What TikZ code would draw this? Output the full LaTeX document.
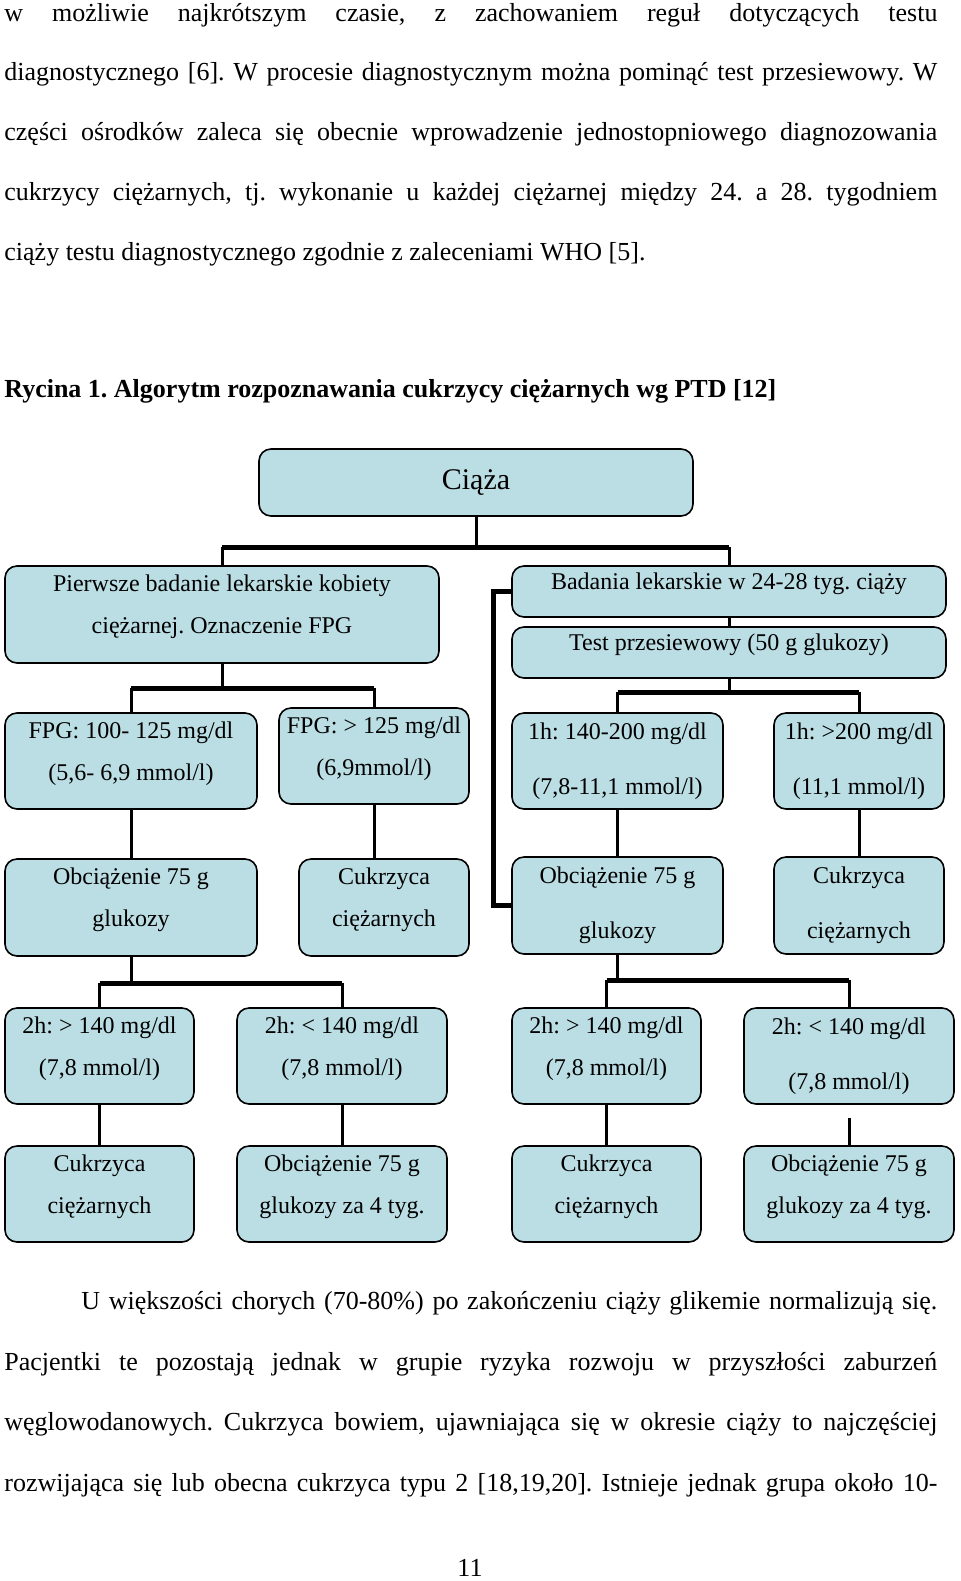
\documentclass[tikz,border=0pt]{standalone}
\usepackage{fontspec}
\setmainfont{Liberation Serif}
\usetikzlibrary{positioning}
\frenchspacing

\definecolor{boxblue}{RGB}{187,222,228}

\tikzstyle{box}=[draw,line width=0.8pt,rounded corners=6pt,fill=boxblue,align=center,inner sep=0pt,font=\fontsize{12}{21}\selectfont]
\tikzstyle{wide}=[font=\fontsize{12}{27.5}\selectfont]
\tikzstyle{lifted}=[text depth=10pt]
\tikzstyle{link}=[line width=1.5pt]
\tikzstyle{bar}=[line width=2.5pt]
\tikzstyle{line}=[inner sep=0pt,anchor=base west,font=\fontsize{13}{15}\selectfont]

\begin{document}
\begin{tikzpicture}[x=0.5pt,y=-0.5pt]
	\useasboundingbox (0,0) rectangle (960,1581);
	\fill[white] (0,0) rectangle (960,1581);
	
	% text above
	\node[line] (t1) at (4,21) {\makebox[466.5pt][s]{w możliwie najkrótszym czasie, z zachowaniem reguł dotyczących testu}};
	\node[line] (t2) at (4,80) {\makebox[466.5pt][s]{diagnostycznego [6]. W procesie diagnostycznym można pominąć test przesiewowy. W}};
	\node[line] (t3) at (4,140) {\makebox[466.5pt][s]{części ośrodków zaleca się obecnie wprowadzenie jednostopniowego diagnozowania}};
	\node[line] (t4) at (4,200) {\makebox[466.5pt][s]{cukrzycy ciężarnych, tj. wykonanie u każdej ciężarnej między 24. a 28. tygodniem}};
	\node[line] (t5) at (4,260) {ciąży testu diagnostycznego zgodnie z zaleceniami WHO [5].};
	
	\node[line,font=\fontsize{13}{15}\selectfont\bfseries] (caption) at (4,397) {Rycina 1. Algorytm rozpoznawania cukrzycy ciężarnych wg PTD [12]};
	
	% boxes
	\node[box,minimum width=217pt,minimum height=33.5pt] (ciaza) at (476,482.5) {\fontsize{15}{18}\selectfont Ciąża};
	
	\node[box,lifted,minimum width=217pt,minimum height=48.5pt] (pierwsze) at (222,614.5) {Pierwsze badanie lekarskie kobiety\\ciężarnej. Oznaczenie FPG};
	\node[box,lifted,minimum width=217pt,minimum height=25.5pt] (badania) at (729,591.5) {Badania lekarskie w 24-28 tyg. ciąży};
	\node[box,lifted,minimum width=217pt,minimum height=25.5pt] (test) at (729,652.5) {Test przesiewowy (50 g glukozy)};
	
	\node[box,lifted,minimum width=126pt,minimum height=48pt] (fpgA) at (131,761) {FPG: 100- 125 mg/dl\\(5,6- 6,9 mmol/l)};
	\node[box,lifted,minimum width=95pt,minimum height=48pt] (fpgB) at (374,756) {FPG: > 125 mg/dl\\(6,9mmol/l)};
	\node[box,wide,minimum width=105.5pt,minimum height=48pt] (hA) at (617.5,761) {1h: 140-200 mg/dl\\(7,8-11,1 mmol/l)};
	\node[box,wide,minimum width=85pt,minimum height=48pt] (hB) at (859,761) {1h: >200 mg/dl\\(11,1 mmol/l)};
	
	\node[box,lifted,minimum width=126pt,minimum height=48.5pt] (obcA) at (131,907.5) {Obciążenie 75 g\\glukozy};
	\node[box,lifted,minimum width=85pt,minimum height=48.5pt] (cukA) at (384,907.5) {Cukrzyca\\ciężarnych};
	\node[box,wide,minimum width=105.5pt,minimum height=48.5pt] (obcB) at (617.5,905.5) {Obciążenie 75 g\\glukozy};
	\node[box,wide,minimum width=85pt,minimum height=48.5pt] (cukB) at (859,905.5) {Cukrzyca\\ciężarnych};
	
	\node[box,lifted,minimum width=94.5pt,minimum height=48pt] (twoA) at (99.5,1056) {2h: > 140 mg/dl\\(7,8 mmol/l)};
	\node[box,lifted,minimum width=105pt,minimum height=48pt] (twoB) at (342,1056) {2h: < 140 mg/dl\\(7,8 mmol/l)};
	\node[box,lifted,minimum width=94.5pt,minimum height=48pt] (twoC) at (606.5,1056) {2h: > 140 mg/dl\\(7,8 mmol/l)};
	\node[box,wide,minimum width=105pt,minimum height=48pt] (twoD) at (849,1056) {2h: < 140 mg/dl\\(7,8 mmol/l)};
	
	\node[box,lifted,minimum width=94.5pt,minimum height=48pt] (cukC) at (99.5,1194) {Cukrzyca\\ciężarnych};
	\node[box,lifted,minimum width=105pt,minimum height=48pt] (obcC) at (342,1194) {Obciążenie 75 g\\glukozy za 4 tyg.};
	\node[box,lifted,minimum width=94.5pt,minimum height=48pt] (cukD) at (606.5,1194) {Cukrzyca\\ciężarnych};
	\node[box,lifted,minimum width=105pt,minimum height=48pt] (obcD) at (849,1194) {Obciążenie 75 g\\glukozy za 4 tyg.};
	
	% connectors
	\coordinate (j1) at (476,547);
	\draw[link] (ciaza) -- (j1);
	\draw[bar] (pierwsze.north |- j1) -- (badania.north |- j1);
	\draw[link] (pierwsze.north |- j1) -- (pierwsze);
	\draw[link] (badania.north |- j1) -- (badania);
	\draw[link] (badania) -- (test);
	
	\coordinate (j2) at (222,688);
	\draw[link] (pierwsze) -- (j2);
	\draw[bar] (fpgA.north |- j2) -- (fpgB.north |- j2);
	\draw[link] (fpgA.north |- j2) -- (fpgA);
	\draw[link] (fpgB.north |- j2) -- (fpgB);
	
	\coordinate (j3) at (729,692);
	\draw[link] (test) -- (j3);
	\draw[bar] (hA.north |- j3) -- (hB.north |- j3);
	\draw[link] (hA.north |- j3) -- (hA);
	\draw[link] (hB.north |- j3) -- (hB);
	
	\draw[bar] (badania.west) -- ++(-18,0) |- (obcB.west);
	
	\draw[link] (fpgA) -- (obcA);
	\draw[link] (fpgB) -- (fpgB |- cukA.north);
	\draw[link] (hA) -- (obcB);
	\draw[link] (hB) -- (cukB);
	
	\coordinate (j4) at (131,983);
	\draw[link] (obcA) -- (j4);
	\draw[bar] (twoA.north |- j4) -- (twoB.north |- j4);
	\draw[link] (twoA.north |- j4) -- (twoA);
	\draw[link] (twoB.north |- j4) -- (twoB);
	
	\coordinate (j5) at (617.5,980);
	\draw[link] (obcB) -- (j5);
	\draw[bar] (twoC.north |- j5) -- (twoD.north |- j5);
	\draw[link] (twoC.north |- j5) -- (twoC);
	\draw[link] (twoD.north |- j5) -- (twoD);
	
	\draw[link] (twoA) -- (cukC);
	\draw[link] (twoB) -- (obcC);
	\draw[link] (twoC) -- (cukD);
	\coordinate (stub) at (849,1118);
	\draw[link] (stub) -- (obcD);
	
	% text below
	\node[line] (b1) at (81,1309) {\makebox[428pt][s]{U większości chorych (70-80\%) po zakończeniu ciąży glikemie normalizują się.}};
	\node[line] (b2) at (4,1370) {\makebox[466.5pt][s]{Pacjentki te pozostają jednak w grupie ryzyka rozwoju w przyszłości zaburzeń}};
	\node[line] (b3) at (4,1430) {\makebox[466.5pt][s]{węglowodanowych. Cukrzyca bowiem, ujawniająca się w okresie ciąży to najczęściej}};
	\node[line] (b4) at (4,1491) {\makebox[466.5pt][s]{rozwijająca się lub obecna cukrzyca typu 2 [18,19,20]. Istnieje jednak grupa około 10-}};
	\node[line,anchor=base] (page) at (470,1576) {11};
\end{tikzpicture}
\end{document}
